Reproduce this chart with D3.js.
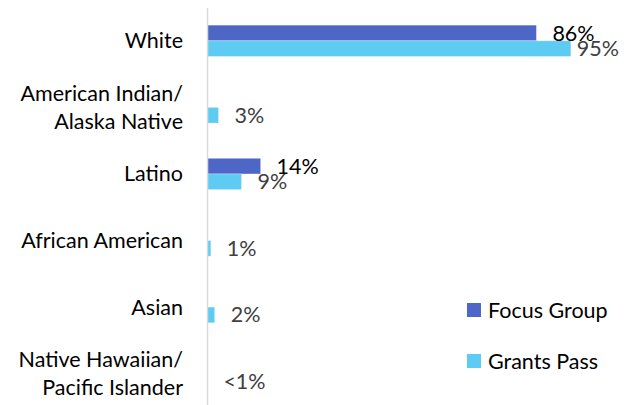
<!DOCTYPE html>
<html>
<head>
<meta charset="utf-8">
<script src="https://cdn.jsdelivr.net/npm/d3@7"></script>
<style>
  body { margin: 0; background: #fff; }
  text { font-family: Lato, "Open Sans", sans-serif; }
</style>
</head>
<body>
<svg id="chart" width="629" height="405"></svg>
<script>
// race / ethnicity, percent
const categories = ["White", "American Indian/\nAlaska Native", "Latino", "African American", "Asian", "Native Hawaiian/\nPacific Islander"];
const seriesNames = ["Focus Group", "Grants Pass"];
const focusGroup = [86, 0, 14, 0, 0, 0];
const grantsPass = [95, 3, 9, 1, 2, 0.1];
const grantsLabels = ["95%", "3%", "9%", "1%", "2%", "<1%"];
const focusLabels = ["86%", "", "14%", "", "", ""];
const colors = ["#4e66c6", "#5ecbf2"];

const svg = d3.select("#chart");
const fontSize = 21.5;
const plotLeft = 207, plotRight = 590, plotTop = 7.5, plotBottom = 407;

const y = d3.scaleBand()
  .domain(categories)
  .range([plotTop, plotBottom])
  .paddingInner(0.53)
  .paddingOuter(0.265);

const ySub = d3.scaleBand()
  .domain(seriesNames)
  .range([0, y.bandwidth()]);

const x = d3.scaleLinear()
  .domain([0, 100])
  .range([plotLeft, plotRight]);

const rows = categories.map((c, i) => ({
  cat: c,
  vals: [
    { s: seriesNames[0], v: focusGroup[i], label: focusLabels[i], color: colors[0], textColor: "#000" },
    { s: seriesNames[1], v: grantsPass[i], label: grantsLabels[i], color: colors[1], textColor: "#404040" }
  ]
}));

const g = svg.selectAll("g.row")
  .data(rows)
  .enter()
  .append("g")
    .attr("class", "row")
    .attr("transform", d => `translate(0, ${y(d.cat)})`);

g.selectAll("rect")
  .data(d => d.vals.filter(v => v.v >= 0.5))
  .enter()
  .append("rect")
    .attr("x", x(0))
    .attr("y", d => ySub(d.s))
    .attr("width", d => x(d.v) - x(0))
    .attr("height", ySub.bandwidth())
    .attr("fill", d => d.color)
    .attr("stroke", "#fff")
    .attr("stroke-opacity", 0.35)
    .attr("stroke-width", 0.8);

g.selectAll("text.val")
  .data(d => d.vals.filter(v => v.label))
  .enter()
  .append("text")
    .attr("class", "val")
    .attr("x", d => x(d.v) + 16)
    .attr("y", d => ySub(d.s) + ySub.bandwidth() / 2)
    .attr("dy", "0.35em")
    .attr("font-size", fontSize)
    .attr("fill", d => d.textColor)
    .text(d => d.label)
    .each(function () {
      // keep labels inside the chart area
      const w = this.getComputedTextLength();
      const x0 = +d3.select(this).attr("x");
      if (x0 + w > 619) d3.select(this).attr("x", 619 - w);
    });

// category axis
const yAxis = d3.axisLeft(y).tickSize(0).tickPadding(24).tickFormat("");
svg.append("g")
  .attr("transform", `translate(${plotLeft}, 0)`)
  .call(yAxis)
  .call(a => a.select(".domain").attr("stroke", "#d9d9d9").attr("stroke-width", 1.5));

const labels = svg.append("g").selectAll("text")
  .data(categories)
  .enter()
  .append("text")
    .attr("x", 183)
    .attr("text-anchor", "end")
    .attr("font-size", fontSize)
    .attr("fill", "#000")
    .attr("y", d => y(d) + y.bandwidth() / 2);

labels.each(function (d) {
  const lines = d.split("\n");
  const lh = 28;
  d3.select(this).selectAll("tspan")
    .data(lines)
    .enter()
    .append("tspan")
      .attr("x", 183)
      .attr("dy", (l, i) => i === 0 ? (0.35 * fontSize - (lines.length - 1) * lh / 2) : lh)
      .text(l => l);
});

// legend
const legend = svg.append("g").selectAll("g")
  .data(seriesNames)
  .enter()
  .append("g")
    .attr("transform", (d, i) => `translate(467, ${310 + i * 51})`);

legend.append("rect")
  .attr("x", 0)
  .attr("y", -7)
  .attr("width", 14)
  .attr("height", 14)
  .attr("fill", (d, i) => colors[i]);

legend.append("text")
  .attr("x", 21)
  .attr("dy", "0.35em")
  .attr("font-size", fontSize)
  .attr("fill", "#000")
  .text(d => d);
</script>
</body>
</html>
